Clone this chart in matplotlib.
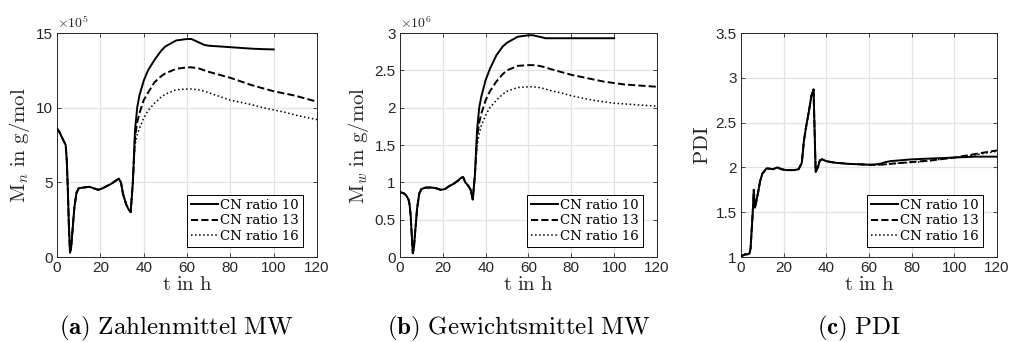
import matplotlib
matplotlib.use("Agg")
import matplotlib.pyplot as plt

plt.rcParams['mathtext.fontset'] = 'cm'
plt.rcParams['font.family'] = ['Liberation Sans', 'DejaVu Sans']

# ---- data ----
# common part (t < ~35 h) is identical for all CN ratios
t_early = [0, 1, 2, 3, 4, 4.5, 5, 5.5, 6, 6.5, 7, 8, 9, 10, 12, 15, 17, 19, 21, 23,
           25, 27, 28.5, 29.5, 30.5, 32, 33, 34]
mn_early = [8.6, 8.4, 8.1, 7.8, 7.5, 6.5, 4.5, 2.0, 0.3, 0.6, 1.5, 3.3, 4.3, 4.6, 4.65,
            4.7, 4.6, 4.5, 4.6, 4.75, 4.9, 5.1, 5.25, 5.0, 4.2, 3.5, 3.2, 3.0]
mw_early = [0.87, 0.86, 0.85, 0.82, 0.77, 0.7, 0.55, 0.3, 0.05, 0.12, 0.3, 0.65, 0.85,
            0.91, 0.93, 0.93, 0.92, 0.9, 0.91, 0.95, 0.98, 1.02, 1.06, 1.07, 1.0, 0.95,
            0.9, 0.77]
pdi_early = [1.0, 1.02, 1.03, 1.03, 1.04, 1.1, 1.3, 1.5, 1.75, 1.55, 1.6, 1.72, 1.85,
             1.93, 1.99, 1.98, 2.0, 1.98, 1.97, 1.97, 1.97, 1.98, 2.05, 2.3, 2.45, 2.65,
             2.8, 2.87]

t_late = [35, 36, 37, 38, 40, 42, 45, 48, 50, 55, 60, 62, 65, 68, 70, 75, 80, 85, 90,
          95, 100, 105, 110, 115, 120]

mn_cn10 = [5.0, 8.5, 10.0, 10.8, 11.8, 12.5, 13.2, 13.8, 14.1, 14.5, 14.6, 14.6, 14.4,
           14.2, 14.15, 14.1, 14.05, 14.0, 13.95, 13.92, 13.9]
mn_cn13 = [5.0, 8.0, 9.0, 9.6, 10.5, 11.0, 11.7, 12.1, 12.3, 12.6, 12.7, 12.7, 12.65,
           12.5, 12.4, 12.2, 12.0, 11.75, 11.5, 11.3, 11.1, 10.95, 10.8, 10.6, 10.4]
mn_cn16 = [5.0, 7.5, 8.2, 8.6, 9.3, 9.8, 10.3, 10.7, 10.9, 11.2, 11.25, 11.25, 11.2,
           11.1, 11.0, 10.75, 10.5, 10.35, 10.2, 10.0, 9.85, 9.7, 9.5, 9.35, 9.2]

mw_cn10 = [1.1, 1.7, 2.0, 2.15, 2.37, 2.52, 2.7, 2.82, 2.87, 2.95, 2.97, 2.97, 2.95,
           2.93, 2.93, 2.93, 2.93, 2.93, 2.93, 2.93, 2.93]
mw_cn13 = [1.1, 1.6, 1.8, 1.92, 2.1, 2.22, 2.35, 2.45, 2.5, 2.56, 2.57, 2.57, 2.56,
           2.54, 2.52, 2.48, 2.44, 2.41, 2.38, 2.35, 2.33, 2.31, 2.3, 2.29, 2.28]
mw_cn16 = [1.1, 1.5, 1.65, 1.76, 1.9, 2.0, 2.1, 2.18, 2.22, 2.27, 2.28, 2.28, 2.27,
           2.25, 2.23, 2.2, 2.16, 2.13, 2.1, 2.08, 2.06, 2.05, 2.04, 2.03, 2.02]

pdi_cn10 = [1.95, 2.0, 2.08, 2.09, 2.07, 2.06, 2.05, 2.045, 2.04, 2.035, 2.03, 2.03,
            2.04, 2.06, 2.07, 2.08, 2.09, 2.095, 2.1, 2.105, 2.11, 2.115, 2.12, 2.12, 2.12]
pdi_cn13 = [1.95, 2.0, 2.08, 2.09, 2.07, 2.06, 2.05, 2.045, 2.04, 2.035, 2.03, 2.03,
            2.03, 2.035, 2.04, 2.05, 2.06, 2.07, 2.08, 2.095, 2.11, 2.13, 2.15, 2.17, 2.19]
pdi_cn16 = [1.95, 2.0, 2.08, 2.09, 2.07, 2.06, 2.05, 2.045, 2.04, 2.035, 2.03, 2.03,
            2.03, 2.035, 2.04, 2.05, 2.055, 2.065, 2.08, 2.095, 2.11, 2.125, 2.14, 2.16, 2.18]

labels = ['CN ratio 10', 'CN ratio 13', 'CN ratio 16']
styles = ['-', '--', ':']

panels = [
    dict(early=mn_early, late=[mn_cn10, mn_cn13, mn_cn16], ylim=(0, 15),
         yticks=[0, 5, 10, 15], ytl=['0', '5', '10', '15'],
         ylabel=r'$\mathrm{M}_n\ \mathrm{in\ g/mol}$', expo=r'$\times10^5$',
         cap=r'$\mathbf{(a)}\ \mathrm{Zahlenmittel\ MW}$',
         pos=[0.0565, 0.2485, 0.2577, 0.655]),
    dict(early=mw_early, late=[mw_cn10, mw_cn13, mw_cn16], ylim=(0, 3),
         yticks=[0, 0.5, 1, 1.5, 2, 2.5, 3], ytl=['0', '0.5', '1', '1.5', '2', '2.5', '3'],
         ylabel=r'$\mathrm{M}_w\ \mathrm{in\ g/mol}$', expo=r'$\times10^6$',
         cap=r'$\mathbf{(b)}\ \mathrm{Gewichtsmittel\ MW}$',
         pos=[0.3964, 0.2485, 0.2547, 0.655]),
    dict(early=pdi_early, late=[pdi_cn10, pdi_cn13, pdi_cn16], ylim=(1, 3.5),
         yticks=[1, 1.5, 2, 2.5, 3, 3.5], ytl=['1', '1.5', '2', '2.5', '3', '3.5'],
         ylabel=r'$\mathrm{PDI}$', expo=None,
         cap=r'$\mathbf{(c)}\ \mathrm{PDI}$',
         pos=[0.7344, 0.2485, 0.2537, 0.655]),
]

fig = plt.figure(figsize=(10.09, 3.42), dpi=100)
axcol = '#262626'

for p in panels:
    ax = fig.add_axes(p['pos'])
    for i, (yl, ls, lab) in enumerate(zip(p['late'], styles, labels)):
        n = len(yl)
        t = t_early + t_late[:n]
        y = p['early'] + yl
        ax.plot(t, y, color='black', ls=ls, lw=1.4 if ls != ':' else 1.1, label=lab,
                zorder=3 - i * 0.1)
    ax.set_xlim(0, 120)
    ax.set_ylim(*p['ylim'])
    ax.set_xticks(range(0, 121, 20))
    ax.set_yticks(p['yticks'])
    ax.set_yticklabels(p['ytl'])
    ax.grid(True, color='#e3e3e3', lw=0.9)
    ax.set_axisbelow(True)
    ax.tick_params(direction='in', top=True, right=True, length=3, width=0.6,
                   colors=axcol, labelsize=11, pad=3)
    for s in ax.spines.values():
        s.set_color(axcol)
        s.set_linewidth(0.7)
    ax.set_xlabel(r'$\mathrm{t\ in\ h}$', fontsize=15, labelpad=0, color=axcol)
    ax.set_ylabel(p['ylabel'], fontsize=15, labelpad=3, color=axcol)
    if p['expo']:
        ax.text(0.0, 1.01, p['expo'], transform=ax.transAxes, fontsize=10,
                color=axcol, ha='left', va='bottom', family='DejaVu Sans')
    w_px = p['pos'][2] * 1009
    h_px = p['pos'][3] * 342
    leg = ax.legend(loc='lower right', bbox_to_anchor=(1 - 14 / w_px, 10 / h_px),
                    handlelength=2.1, handletextpad=0.15,
                    borderpad=0.3, labelspacing=0.2, fancybox=False, framealpha=1,
                    borderaxespad=0, prop={'family': 'DejaVu Serif', 'size': 9.5})
    leg.get_frame().set_edgecolor('black')
    leg.get_frame().set_linewidth(0.7)
    x0 = p['pos'][0] + p['pos'][2] / 2
    fig.text(x0 - 0.01, 0.041, p['cap'], fontsize=18, ha='center', va='center')

fig.savefig('out.png', dpi=100)
